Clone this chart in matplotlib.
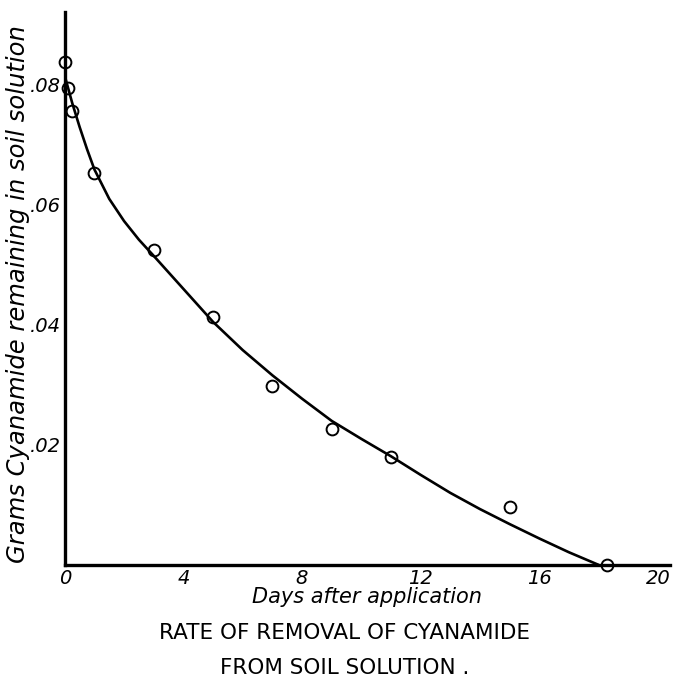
import numpy as np
import matplotlib.pyplot as plt

# observed points (days, grams cyanamide)
obs_days = [0, 0.1, 0.25, 1, 3, 5, 7, 9, 11, 15, 18.3]
obs_grams = [0.0838, 0.0795, 0.0757, 0.0653, 0.0525, 0.0413, 0.0298, 0.0226, 0.0180, 0.0097, 0.0]

# smooth curve
curve_days = [0, 0.25, 0.5, 0.75, 1, 1.5, 2, 2.5, 3, 4, 5, 6, 7, 8, 9, 10,
              11, 12, 13, 14, 15, 16, 17, 18]
curve_grams = [0.0815, 0.0770, 0.0730, 0.0693, 0.0659, 0.0610, 0.0573, 0.0542, 0.0515,
               0.0460, 0.0405, 0.0358, 0.0316, 0.0277, 0.0240, 0.0210, 0.0181, 0.0150,
               0.0120, 0.0093, 0.0068, 0.0044, 0.0021, 0.0]

xticks = [0, 4, 8, 12, 16, 20]
xtick_labels = ["0", "4", "8", "12", "16", "20"]
yticks = [0.02, 0.04, 0.06, 0.08]
ytick_labels = [".02", ".04", ".06", ".08"]

fig = plt.figure(figsize=(6.89, 6.88), dpi=100)
ax = fig.add_axes([0.094, 0.179, 0.878, 0.804])

ax.plot(curve_days, curve_grams, color="black", lw=1.9, solid_capstyle="round",
        solid_joinstyle="round")
ax.plot(obs_days, obs_grams, "o", ms=8.5, mfc="none", mec="black", mew=1.4, clip_on=False)

ax.set_xlim(0, 20.4)
ax.set_ylim(0, 0.0922)

for s in ["top", "right"]:
    ax.spines[s].set_visible(False)
for s in ["left", "bottom"]:
    ax.spines[s].set_linewidth(2.4)

ax.set_xticks(xticks, labels=xtick_labels)
ax.set_yticks(yticks, labels=ytick_labels)
ax.tick_params(length=0, labelsize=14, pad=3)
for lab in ax.get_xticklabels() + ax.get_yticklabels():
    lab.set_fontstyle("italic")

ax.set_xlabel("Days after application", fontsize=15, fontstyle="italic", labelpad=-1)
ax.set_ylabel("Grams Cyanamide remaining in soil solution", fontsize=17.5,
              fontstyle="italic")
ax.yaxis.set_label_coords(-0.058, 0.49)

fig.text(0.5, 0.08, "RATE OF REMOVAL OF CYANAMIDE", ha="center", va="center", fontsize=15.5)
fig.text(0.5, 0.029, "FROM SOIL SOLUTION .", ha="center", va="center", fontsize=15.5)

plt.savefig("out.png", dpi=100)
